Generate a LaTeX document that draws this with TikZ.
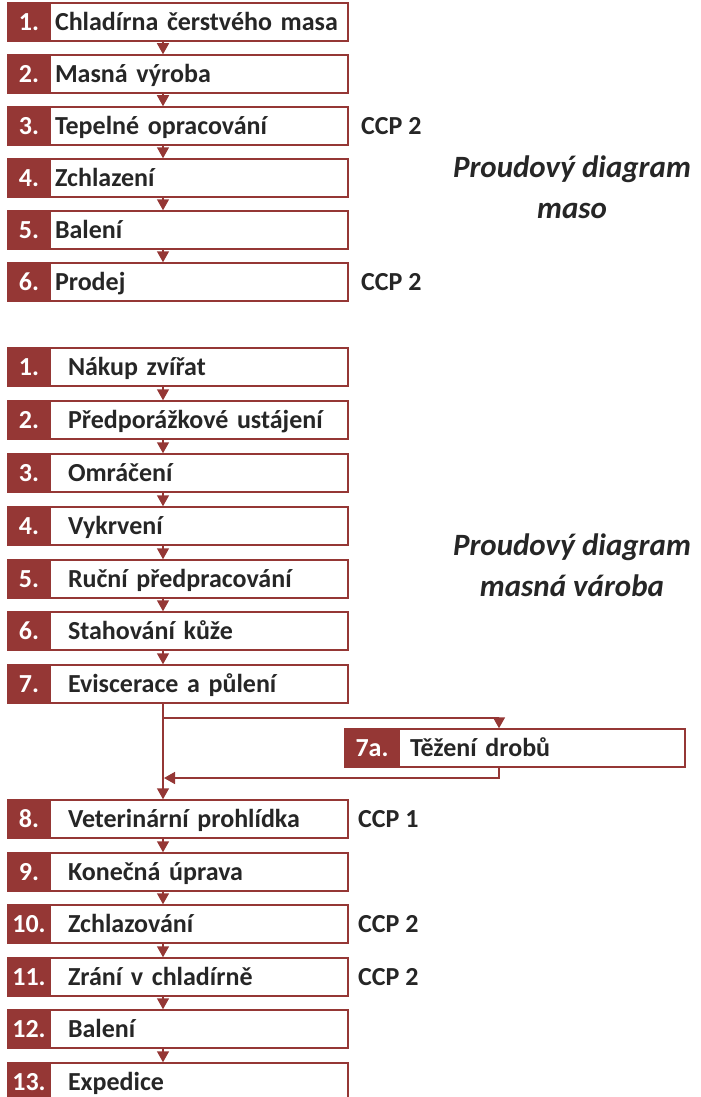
\documentclass[tikz,border=0pt]{standalone}
\usepackage{fontspec}
\setmainfont{Carlito}
\usepackage{tikz}
\usetikzlibrary{arrows.meta}
\definecolor{brick}{HTML}{953735}

\begin{document}
\begin{tikzpicture}
				[x=1pt,y=-1pt,
				 every node/.style={font=\fontsize{26}{30}\selectfont\bfseries, text height=16.5pt, text depth=0pt},
				 num/.style={draw=brick, fill=brick, line width=1.5pt, text=white, minimum width=42pt, minimum height=38pt, inner sep=0pt},
				 stepbox/.style={draw=brick, line width=1.5pt, minimum height=38pt, inner xsep=5pt, text width=288pt, align=left, text=black!85},
				 stepboxb/.style={stepbox, inner xsep=18pt, text width=262pt},
				 ccp/.style={anchor=west, inner sep=0pt, text=black!85},
				 title/.style={font=\fontsize{31}{41}\selectfont\bfseries\itshape, align=center, text=black!85, text height=, text depth=},
				 flow/.style={draw=brick, line width=1.5pt, -{Triangle[width=12pt,length=11pt]}}]
				\useasboundingbox (0,0) rectangle (701,1097);

				% proudovy diagram maso
				\node[num] (mn1) at (29,22)  {1.};
				\node[num] (mn2) at (29,74)  {2.};
				\node[num] (mn3) at (29,126) {3.};
				\node[num] (mn4) at (29,178) {4.};
				\node[num] (mn5) at (29,230) {5.};
				\node[num] (mn6) at (29,282) {6.};
				\node[stepbox] (m1) at (199,22)  {Chladírna čerstvého masa};
				\node[stepbox] (m2) at (199,74)  {Masná výroba};
				\node[stepbox] (m3) at (199,126) {Tepelné opracování};
				\node[stepbox] (m4) at (199,178) {Zchlazení};
				\node[stepbox] (m5) at (199,230) {Balení};
				\node[stepbox] (m6) at (199,282) {Prodej};
				\node[ccp] (mc3) at (361,126) {CCP 2};
				\node[ccp] (mc6) at (361,282) {CCP 2};
				\node[title] (mt) at (572,187) {Proudový diagram\\maso};

				\draw[flow] ([xshift=-36pt]m1.south) -- ([xshift=-36pt]m2.north);
				\draw[flow] ([xshift=-36pt]m2.south) -- ([xshift=-36pt]m3.north);
				\draw[flow] ([xshift=-36pt]m3.south) -- ([xshift=-36pt]m4.north);
				\draw[flow] ([xshift=-36pt]m4.south) -- ([xshift=-36pt]m5.north);
				\draw[flow] ([xshift=-36pt]m5.south) -- ([xshift=-36pt]m6.north);

				% proudovy diagram masna vyroba
				\node[num] (vn1)  at (29,367)  {1.};
				\node[num] (vn2)  at (29,420)  {2.};
				\node[num] (vn3)  at (29,473)  {3.};
				\node[num] (vn4)  at (29,526)  {4.};
				\node[num] (vn5)  at (29,579)  {5.};
				\node[num] (vn6)  at (29,631)  {6.};
				\node[num] (vn7)  at (29,684)  {7.};
				\node[num] (vn8)  at (29,819)  {8.};
				\node[num] (vn9)  at (29,872)  {9.};
				\node[num] (vn10) at (29,924)  {10.};
				\node[num] (vn11) at (29,977)  {11.};
				\node[num] (vn12) at (29,1029) {12.};
				\node[num] (vn13) at (29,1082) {13.};
				\node[num, minimum width=54pt] (vn7a) at (372,748) {7a.};
				\node[stepboxb] (v1)  at (199,367)  {Nákup zvířat};
				\node[stepboxb] (v2)  at (199,420)  {Předporážkové ustájení};
				\node[stepboxb] (v3)  at (199,473)  {Omráčení};
				\node[stepboxb] (v4)  at (199,526)  {Vykrvení};
				\node[stepboxb] (v5)  at (199,579)  {Ruční předpracování};
				\node[stepboxb] (v6)  at (199,631)  {Stahování kůže};
				\node[stepboxb] (v7)  at (199,684)  {Eviscerace a půlení};
				\node[stepboxb] (v8)  at (199,819)  {Veterinární prohlídka};
				\node[stepboxb] (v9)  at (199,872)  {Konečná úprava};
				\node[stepboxb] (v10) at (199,924)  {Zchlazování};
				\node[stepboxb] (v11) at (199,977)  {Zrání v chladírně};
				\node[stepboxb] (v12) at (199,1029) {Balení};
				\node[stepboxb] (v13) at (199,1082) {Expedice};
				\node[stepbox, inner xsep=11pt, text width=264pt] (v7a) at (542,748) {Těžení drobů};
				\node[ccp] (vc8)  at (358,819) {CCP 1};
				\node[ccp] (vc10) at (358,924) {CCP 2};
				\node[ccp] (vc11) at (358,977) {CCP 2};
				\node[title] (vt) at (572,565) {Proudový diagram\\masná vároba};

				\draw[flow] ([xshift=-36pt]v1.south) -- ([xshift=-36pt]v2.north);
				\draw[flow] ([xshift=-36pt]v2.south) -- ([xshift=-36pt]v3.north);
				\draw[flow] ([xshift=-36pt]v3.south) -- ([xshift=-36pt]v4.north);
				\draw[flow] ([xshift=-36pt]v4.south) -- ([xshift=-36pt]v5.north);
				\draw[flow] ([xshift=-36pt]v5.south) -- ([xshift=-36pt]v6.north);
				\draw[flow] ([xshift=-36pt]v6.south) -- ([xshift=-36pt]v7.north);
				\draw[flow] ([xshift=-36pt]v7.south) -- ([xshift=-36pt]v8.north);
				\coordinate (fork) at (163,718);
				\coordinate (join) at (164,778);
				\draw[flow] (fork) -| ([xshift=-43pt]v7a.north);
				\draw[flow] ([xshift=-43pt]v7a.south) |- (join);
				\draw[flow] ([xshift=-36pt]v8.south) -- ([xshift=-36pt]v9.north);
				\draw[flow] ([xshift=-36pt]v9.south) -- ([xshift=-36pt]v10.north);
				\draw[flow] ([xshift=-36pt]v10.south) -- ([xshift=-36pt]v11.north);
				\draw[flow] ([xshift=-36pt]v11.south) -- ([xshift=-36pt]v12.north);
				\draw[flow] ([xshift=-36pt]v12.south) -- ([xshift=-36pt]v13.north);
				\end{tikzpicture}
\end{document}
